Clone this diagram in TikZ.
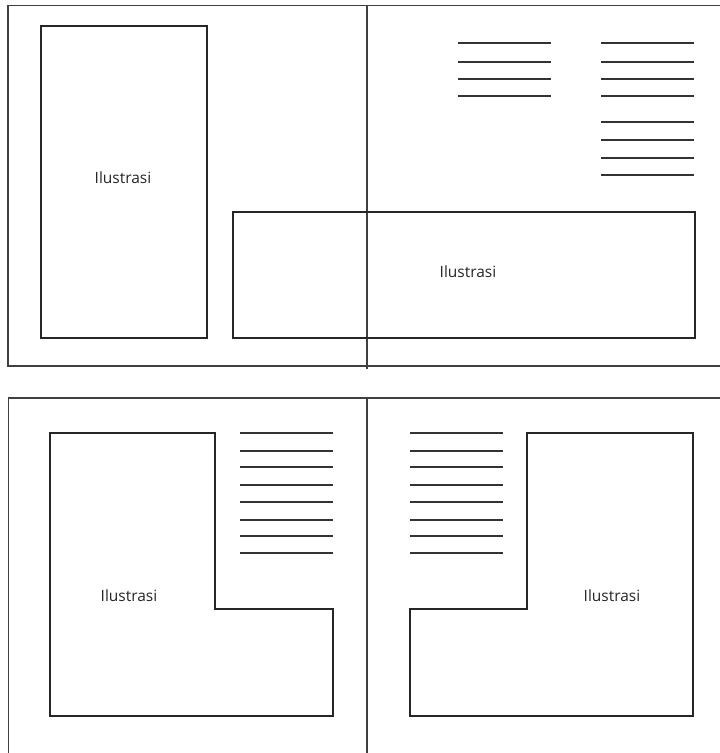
\documentclass[tikz,border=0pt]{standalone}
\usepackage{fontspec}
\setmainfont{Open Sans}
\begin{document}
\begin{tikzpicture}[x=1pt,y=-1pt,
  frame/.style={draw=black!75, line width=1.5pt},
  outline/.style={draw=black!85, line width=2pt},
  textline/.style={draw=black!80, line width=2pt},
  lbl/.style={font=\fontsize{15.5}{17}\selectfont, text=black!85, inner sep=0pt}]
\useasboundingbox (0,0) rectangle (720,753);
\fill[white] (0,0) rectangle (720,753);
% top spread
\draw[frame] (720,5.5) -- (8,5.5) -- (8,366) -- (720,366);
\draw[frame] (367,5.5) -- (367,369);
\draw[outline] (41,26) rectangle (207,338);
\node[lbl] (t1) at (123,178) {Ilustrasi};
\draw[outline] (233,212) rectangle (695,338);
\node[lbl] (t2) at (468,272) {Ilustrasi};
\foreach \y in {43,61.5,79,96} \draw[textline] (458,\y) -- (551,\y);
\foreach \y in {43,61.5,79,96,122,140,157.5,175} \draw[textline] (601,\y) -- (694,\y);
% bottom spread
\draw[frame] (720,398) -- (8.5,398) -- (8.5,753);
\draw[frame] (367,398) -- (367,753);
\draw[outline] (50,433) -- (215,433) -- (215,609) -- (333,609) -- (333,716) -- (50,716) -- cycle;
\node[lbl] (t3) at (129,596) {Ilustrasi};
\draw[outline] (527,433) -- (693,433) -- (693,716) -- (410,716) -- (410,609) -- (527,609) -- cycle;
\node[lbl] (t4) at (612,596) {Ilustrasi};
\foreach \y in {433,450.5,467,484.5,502,520,536,553} {
  \draw[textline] (240,\y) -- (333,\y);
  \draw[textline] (410,\y) -- (503,\y);
}
\end{tikzpicture}
\end{document}
